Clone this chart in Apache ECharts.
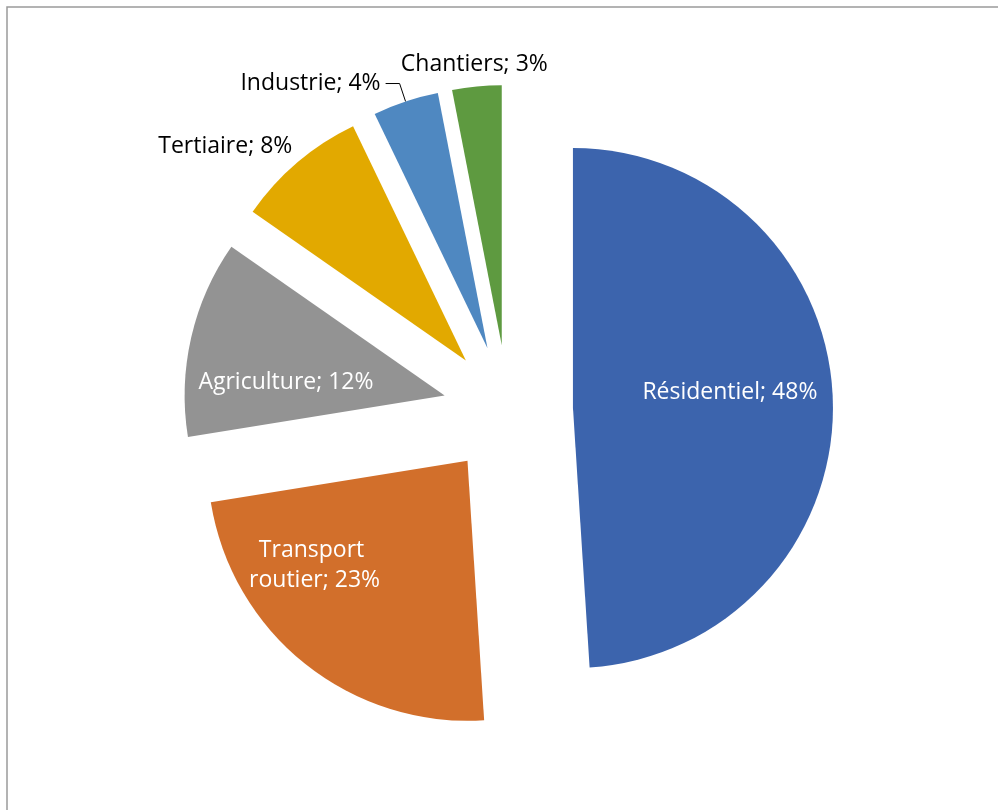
<!DOCTYPE html>
<html>
<head>
<meta charset="utf-8">
<script src="https://cdn.jsdelivr.net/npm/echarts@6/dist/echarts.min.js"></script>
<style>
  html, body { margin: 0; padding: 0; background: #fff; }
  #chart { width: 998px; height: 810px; }
</style>
</head>
<body>
<div id="chart"></div>
<script>
// Share of emissions by sector (%)
const categories = ['Résidentiel', 'Transport routier', 'Agriculture', 'Tertiaire', 'Industrie', 'Chantiers'];
const values = [48, 23, 12, 8, 4, 3];
const colors = ['#3C64AD', '#D26F2B', '#939393', '#E2A900', '#4F88C1', '#5E9A40'];
// labels drawn inside the slice (white) vs outside (black)
const insideLabel = [true, true, true, false, false, false];
// fine placement of each label relative to its default spot
const labelShift = [[24, -11], [-70, 1], [-29, 17], [0, -16], null, [76, -22]];

const FONT = '"Open Sans", "Noto Sans", sans-serif';

const chart = echarts.init(document.getElementById('chart'), null, { renderer: 'canvas' });

const data = categories.map((name, i) => {
  const inside = insideLabel[i];
  const item = {
    name: name,
    value: values[i],
    selected: true,
    itemStyle: { color: colors[i], borderWidth: 0 },
    label: {
      position: inside ? 'inside' : 'outside',
      color: inside ? '#ffffff' : '#000000'
    },
    labelLine: { show: false, length: 0, length2: 0 }
  };
  if (name === 'Transport routier') {
    item.label.width = 150;
    item.label.overflow = 'break';
    item.label.align = 'center';
    item.label.lineHeight = 30;
  }
  if (name === 'Industrie') {
    item.labelLine = {
      show: true, length: 19, length2: 14,
      lineStyle: { color: '#000', width: 1 }
    };
  }
  return item;
});

chart.setOption({
  animation: false,
  backgroundColor: '#ffffff',
  graphic: [{
    type: 'rect',
    shape: { x: 7, y: 7, width: 1200, height: 1200 },
    style: { fill: 'none', stroke: '#9a9a9a', lineWidth: 1.5 },
    silent: true
  }],
  series: [{
    type: 'pie',
    center: [508, 410],
    radius: [0, 260],
    startAngle: 90,
    clockwise: true,
    selectedMode: 'multiple',
    selectedOffset: 65,
    avoidLabelOverlap: false,
    emphasis: { disabled: true, scale: false },
    select: { itemStyle: { borderWidth: 0 } },
    label: {
      show: true,
      fontFamily: FONT,
      fontSize: 23,
      formatter: p => p.name + '; ' + p.value + '%'
    },
    labelLayout: p => {
      const s = labelShift[p.dataIndex];
      return s ? { dx: s[0], dy: s[1] } : {};
    },
    data: data
  }]
});
</script>
</body>
</html>
